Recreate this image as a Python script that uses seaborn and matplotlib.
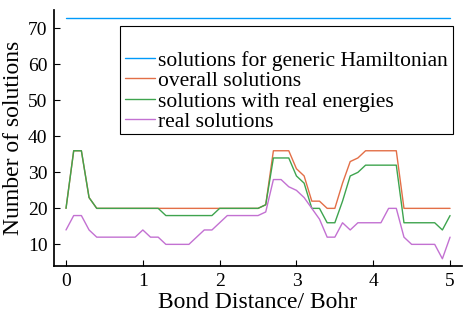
import numpy as np
import pandas as pd
import matplotlib
matplotlib.use('Agg')
import matplotlib.pyplot as plt
from matplotlib.patches import Rectangle
import seaborn as sns

sns.set_theme(style='ticks', rc={'text.color': 'black', 'axes.labelcolor': 'black',
                                 'xtick.color': 'black', 'ytick.color': 'black',
                                 'axes.edgecolor': 'black'})
plt.rcParams['font.family'] = ['Liberation Serif', 'DejaVu Serif']

# bond distance grid, 0 to 5 Bohr in steps of 0.1
bond = [round(0.1 * i, 1) for i in range(51)]

generic = [73] * 51

overall = [20, 36, 36, 23, 20, 20, 20, 20, 20, 20,
           20, 20, 20, 20, 20, 20, 20, 20, 20, 20,
           20, 20, 20, 20, 20, 20, 21, 36, 36, 36,
           31, 29, 22, 22, 20, 20, 27, 33, 34, 36,
           36, 36, 36, 36, 20, 20, 20, 20, 20, 20,
           20]

real_energies = [20, 36, 36, 23, 20, 20, 20, 20, 20, 20,
                 20, 20, 20, 18, 18, 18, 18, 18, 18, 18,
                 20, 20, 20, 20, 20, 20, 21, 34, 34, 34,
                 29, 27, 20, 20, 16, 16, 22, 29, 30, 32,
                 32, 32, 32, 32, 16, 16, 16, 16, 16, 14,
                 18]

real_sols = [14, 18, 18, 14, 12, 12, 12, 12, 12, 12,
             14, 12, 12, 10, 10, 10, 10, 12, 14, 14,
             16, 18, 18, 18, 18, 18, 19, 28, 28, 26,
             25, 23, 20, 17, 12, 12, 16, 14, 16, 16,
             16, 16, 20, 20, 12, 10, 10, 10, 10, 6,
             12]

labels = ['solutions for generic Hamiltonian', 'overall solutions',
          'solutions with real energies', 'real solutions']
colors = ['#009AFA', '#E36F47', '#3EA44E', '#C371D2']

fig = plt.figure(figsize=(4.71, 3.14), dpi=100)
ax = fig.add_axes([0.1157, 0.153, 0.8643, 0.814])

for ys, lab, c in zip([generic, overall, real_energies, real_sols], labels, colors):
    sns.lineplot(x=bond, y=ys, ax=ax, color=c, linewidth=1, label=lab)

ax.set_xlim(-0.15, 5.15)
ax.set_ylim(4, 75)
ax.set_xticks([0, 1, 2, 3, 4, 5])
ax.set_yticks([10, 20, 30, 40, 50, 60, 70])
ax.tick_params(direction='in', labelsize=14, length=4, width=0.8, pad=5)
ax.set_xlabel('Bond Distance/ Bohr', fontsize=17, labelpad=1.5)
ax.set_ylabel('Number of solutions', fontsize=17, labelpad=3)
sns.despine(ax=ax)

# legend box drawn separately (wide top/bottom padding, tight sides)
box = Rectangle((0.162, 0.516), 0.816, 0.421, transform=ax.transAxes,
                facecolor='white', edgecolor='black', linewidth=0.8, zorder=4)
ax.add_patch(box)
leg = ax.legend(loc='upper left', bbox_to_anchor=(0.162, 0.86), fontsize=15.5,
                frameon=False, handlelength=1.4, handletextpad=0.15,
                borderpad=0.2, labelspacing=0.02, borderaxespad=0)
leg.set_zorder(5)

fig.savefig('out.png', dpi=100)
